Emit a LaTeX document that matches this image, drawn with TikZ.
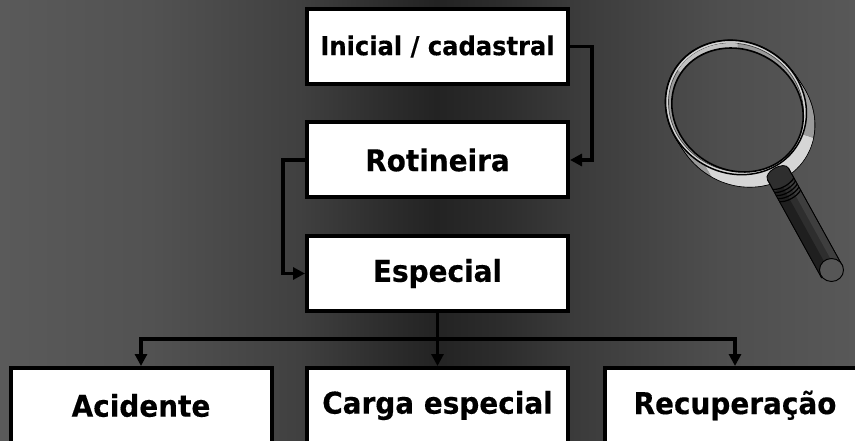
\documentclass[tikz,border=0pt]{standalone}
\usepackage{xcolor}
\usepackage{fontspec}
\usepackage{tikz}
\usetikzlibrary{arrows.meta}
\newfontfamily\boxfont{DejaVu Sans Bold}[FakeStretch=0.93,FakeBold=0.35]
\definecolor{bgleft}{HTML}{5A5A5A}
\definecolor{bglefta}{HTML}{525252}
\definecolor{bgleftb}{HTML}{404040}
\definecolor{bgleftc}{HTML}{2E2E2E}
\definecolor{bgdark}{HTML}{232323}
\definecolor{bgrightc}{HTML}{2C2C2C}
\definecolor{bgrightb}{HTML}{3A3A3A}
\definecolor{bgrighta}{HTML}{4E4E4E}
\definecolor{bgright}{HTML}{585858}
\definecolor{ringgrey}{HTML}{9A9A9A}
\definecolor{ringlight}{HTML}{D6D6D6}
\definecolor{handlea}{HTML}{1F1F1F}
\definecolor{handleb}{HTML}{2E2E2E}
\definecolor{handlec}{HTML}{3E3E3E}
\definecolor{capgrey}{HTML}{565656}
\pgfdeclarehorizontalshading{bgshade}{100bp}{color(0bp)=(bgleft); color(25bp)=(bgleft); color(33.8bp)=(bglefta); color(42.5bp)=(bgleftb); color(47.2bp)=(bgleftc); color(50.5bp)=(bgdark); color(54.2bp)=(bgrightc); color(58.3bp)=(bgrightb); color(67.1bp)=(bgrighta); color(75bp)=(bgright); color(100bp)=(bgright)}
\tikzset{
  even odd clip/.code={\pgfseteorule},
  stagebox/.style={draw=black,fill=white,line width=3pt,minimum width=195.75pt,minimum height=56.25pt,inner sep=0pt,text=black,font=\boxfont\fontsize{22.5}{26}\selectfont},
  smallbox/.style={stagebox,font=\boxfont\fontsize{19.5}{23}\selectfont},
  conn/.style={draw=black,line width=2.7pt},
  connarrow/.style={conn,-{Triangle[length=9pt,width=9pt]}},
  outerring/.style={x radius=72,y radius=65.5,rotate=-30},
  innerring/.style={x radius=69,y radius=62.8,rotate=-30},
  glassring/.style={x radius=67.5,y radius=60,rotate=-30}
}
\begin{document}
\begin{tikzpicture}[x=0.75pt,y=0.75pt]
\clip (0,0) rectangle (855,-441);
\shade [shading=bgshade] (0,0) rectangle (855,-441);
\node [smallbox] (inicial) at (437.5,-46.5) {Inicial / cadastral};
\node [stagebox] (rotineira) at (437.5,-160) {Rotineira};
\node [stagebox] (especial) at (437.5,-273.5) {Especial};
\node [stagebox] (acidente) at (141,-405.5) {Acidente};
\node [stagebox] (carga) at (437.5,-405.5) {Carga especial};
\node [stagebox] (recuperacao) at (735,-405.5) {Recuperação};
\draw [connarrow] (inicial.east) -- ++(22,0) |- (rotineira.east);
\draw [connarrow] (rotineira.west) -- ++(-22,0) |- (especial.west);
\draw [connarrow] (especial.south) -- ++(0,-26) -| (acidente.north);
\draw [connarrow] (especial.south) -- (carga.north);
\draw [connarrow] (especial.south) -- ++(0,-26) -| (recuperacao.north);
\begin{scope}
\clip [even odd clip] (600,0) rectangle (855,-300) (737.5,-110) ellipse [glassring];
\foreach \s in {0,0.1,...,1.01}
  \draw [black,line width=1.3pt] ({736+8*\s},{-107.5-12*\s}) ellipse [outerring];
\foreach \s in {0,0.1,...,1.01}
  \fill [ringgrey] ({736+8*\s},{-107.5-12*\s}) ellipse [outerring];
\begin{scope}
\clip (700,-155) -- (722,-195) -- (830,-195) -- (830,-143) -- (795,-133) -- cycle;
\foreach \s in {0,0.1,...,1.01}
  \fill [ringlight] ({736+8*\s},{-107.5-12*\s}) ellipse [outerring];
\end{scope}
\draw [black,fill=ringlight,line width=1.1pt] (736,-107.5) ellipse [outerring];
\draw [black!75,fill=ringgrey,line width=0.5pt] (736,-107.5) ellipse [innerring];
\begin{scope}
\clip (736,-107.5) ellipse [innerring];
\fill [ringlight!90!black] (668,-62) -- (690,-80) -- (738,-58) -- (737,-30) -- (680,-35) -- cycle;
\end{scope}
\end{scope}
\draw [black,line width=1.2pt] (737.5,-110) ellipse [glassring];
\begin{scope}[rotate around={-61.1:(778,-174)}]
\draw [black,fill=handleb,line width=0.6pt] (778,-162) .. controls (769,-162) and (769,-186) .. (778,-186) -- (890,-186) -- (890,-162) -- cycle;
\fill [handlea] (792,-185.7) rectangle (890,-176);
\fill [handlec] (792,-169) rectangle (890,-162.3);
\foreach \t in {789,792.5,796,799.5,803}
  \draw [black,line width=0.9pt] (\t,-162) .. controls (\t+4,-168) and (\t+4,-180) .. (\t,-186);
\draw [black,line width=0.6pt] (778,-162) -- (890,-162);
\draw [black,line width=0.6pt] (778,-186) -- (890,-186);
\end{scope}
\draw [black,fill=capgrey,line width=0.7pt] (831.5,-270) ellipse [x radius=12,y radius=11.5];
\end{tikzpicture}
\end{document}
